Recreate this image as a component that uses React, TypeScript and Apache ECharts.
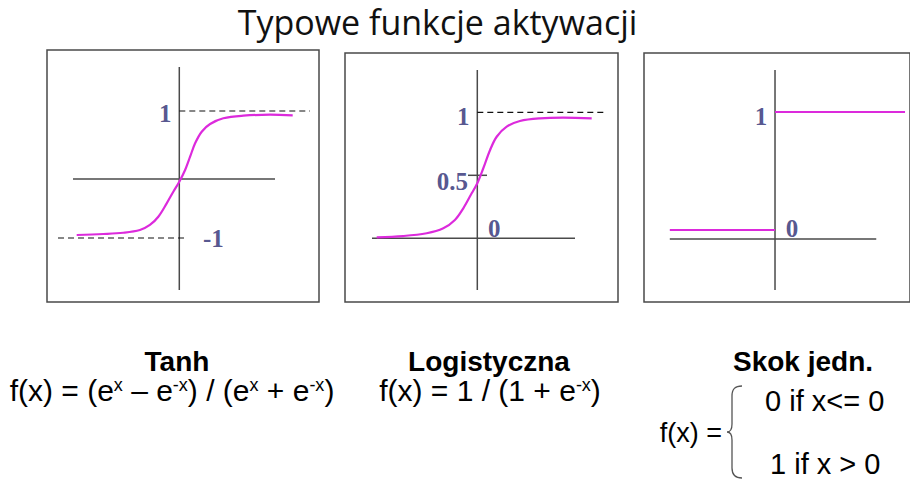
import { useEffect, useRef } from 'react';
import * as echarts from 'echarts';

// ---- data ----
const tanhX = [-5.13, -3.8, -2.8, -1.97, -1.47, -1.05, -0.63, -0.3, 0, 0.29, 0.54, 0.79, 1.12, 1.54, 2.2, 3.2, 4.54, 5.67];
const tanhY = [-0.953, -0.937, -0.917, -0.874, -0.795, -0.665, -0.454, -0.271, -0.113, 0.071, 0.28, 0.491, 0.674, 0.795, 0.885, 0.926, 0.942, 0.932];
const logX = [-5.03, -3.7, -2.53, -1.7, -1.12, -0.7, -0.28, 0, 0.3, 0.64, 0.97, 1.47, 2.13, 3.13, 4.3, 5.72];
const logY = [0.008, 0.018, 0.04, 0.079, 0.145, 0.238, 0.357, 0.437, 0.556, 0.701, 0.806, 0.886, 0.931, 0.952, 0.957, 0.952];
const stepX = [-5.3, 0, 6.55];
const stepLevels = [0, 1];

const tanhTickValues = [1, -1];
const tanhTickLabels = ['1', '-1'];
const logTickValues = [1, 0.5, 0];
const logTickLabels = ['1', '0.5', '0'];
const stepTickValues = [1, 0];
const stepTickLabels = ['1', '0'];

const titleText = 'Typowe funkcje aktywacji';
const names = ['Tanh', 'Logistyczna', 'Skok jedn.'];

// ---- layout (pixels) ----
const panels = [
  { box: [47, 50, 319, 302], x0: 179.3, y0: 174.5, ux: 20, uy: 63.5 },
  { box: [345, 53, 618, 302], x0: 477.3, y0: 238.3, ux: 20, uy: 126 },
  { box: [644, 53, 912, 302], x0: 776, y0: 230, ux: 20, uy: 118 },
];

const MAGENTA = '#dc2adc';
const AXIS = '#4a4a4a';
const LABEL = '#2a2a72';
const SANS = 'Liberation Sans, Arial, sans-serif';

export default function App() {
  const ref = useRef<HTMLDivElement>(null);

  useEffect(() => {
    document.body.style.margin = '0';
    if (!ref.current) return;
    echarts.graphic.registerShape(
      'brace',
      echarts.graphic.extendPath('M15,0 C8,0 5,3 5,10 L5,38 C5,43 3,46 0,46 C3,46 5,49 5,54 L5,82 C5,89 8,92 15,92', {})
    );
    const chart = echarts.init(ref.current, undefined, { renderer: 'svg' });

    const px2x = (i: number, px: number) => (px - panels[i].x0) / panels[i].ux;
    const px2y = (i: number, py: number) => (panels[i].y0 - py) / panels[i].uy;

    const grid = panels.map((p) => ({
      left: p.box[0],
      top: p.box[1],
      width: p.box[2] - p.box[0],
      height: p.box[3] - p.box[1],
      show: true,
      borderColor: AXIS,
      borderWidth: 1.5,
      backgroundColor: 'transparent',
    }));
    const xAxis = panels.map((p, i) => ({
      type: 'value', gridIndex: i, show: false,
      min: px2x(i, p.box[0]), max: px2x(i, p.box[2]),
    }));
    const yAxis = panels.map((p, i) => ({
      type: 'value', gridIndex: i, show: false,
      min: px2y(i, p.box[3]), max: px2y(i, p.box[1]),
    }));

    const seg = (g: number, pts: number[][], style: any, z = 2) => ({
      type: 'line', xAxisIndex: g, yAxisIndex: g, data: pts, symbol: 'none',
      silent: true, lineStyle: style, z, clip: false,
    });
    const axisStyle = { color: AXIS, width: 1.5 };
    const dashStyle = { color: '#111', width: 1.2, type: [6, 4] };

    // axes drawn inside each box (pixel extents from the reference)
    const axes = (g: number, hy: number, hx1: number, hx2: number, vy1: number, vy2: number) => [
      seg(g, [[px2x(g, hx1), px2y(g, hy)], [px2x(g, hx2), px2y(g, hy)]], axisStyle, 1),
      seg(g, [[0, px2y(g, vy1)], [0, px2y(g, vy2)]], axisStyle, 1),
    ];

    const labelSeries = (g: number, values: number[], labels: string[], offsets: number[][]) => ({
      type: 'scatter', xAxisIndex: g, yAxisIndex: g, symbolSize: 0, silent: true, z: 5,
      data: values.map((v, k) => ({ value: [0, v], name: labels[k], label: { offset: offsets[k] } })),
      label: {
        show: true, position: 'inside', formatter: '{b}',
        fontFamily: 'Liberation Serif, Times New Roman, serif', fontWeight: 'bold', fontSize: 25, color: LABEL,
      },
    });

    const series: any[] = [
      // panel 1: tanh
      ...axes(0, 179, 73, 275, 67, 290),
      seg(0, [[0, 1], [px2x(0, 310), 1]], dashStyle),
      seg(0, [[px2x(0, 58), -1], [px2x(0, 187), -1]], dashStyle),
      {
        type: 'line', xAxisIndex: 0, yAxisIndex: 0, symbol: 'none', smooth: 0.35, silent: true, z: 3,
        data: tanhX.map((x, k) => [x, tanhY[k]]), lineStyle: { color: MAGENTA, width: 2.2 },
      },
      labelSeries(0, tanhTickValues, tanhTickLabels, [[-14, 2], [34, 0]]),
      // panel 2: logistic
      ...axes(1, 238.3, 372, 575, 70, 290),
      seg(1, [[0, 1], [px2x(1, 607), 1]], dashStyle),
      seg(1, [[px2x(1, 468), 0.5], [px2x(1, 487), 0.5]], axisStyle),
      {
        type: 'line', xAxisIndex: 1, yAxisIndex: 1, symbol: 'none', smooth: 0.35, silent: true, z: 3,
        data: logX.map((x, k) => [x, logY[k]]), lineStyle: { color: MAGENTA, width: 2.2 },
      },
      labelSeries(1, logTickValues, logTickLabels, [[-14, 4], [-25, 6], [17, -10]]),
      // panel 3: unit step
      ...axes(2, 239, 670, 878, 70, 290),
      seg(2, [[stepX[0], stepLevels[0]], [stepX[1], stepLevels[0]]], { color: MAGENTA, width: 1.8 }, 3),
      seg(2, [[stepX[1], stepLevels[1]], [stepX[2], stepLevels[1]]], { color: MAGENTA, width: 1.8 }, 3),
      labelSeries(2, stepTickValues, stepTickLabels, [[-14, 4], [17, -2]]),
    ];

    const txt = (x: number, y: number, text: string, extra: any = {}) => ({
      type: 'text', x, y, silent: true, z: 10,
      style: {
        text, fill: '#000', fontFamily: SANS, fontSize: 28, lineHeight: 28,
        align: 'center', verticalAlign: 'middle', ...extra,
      },
    });
    const rich = {
      m: { fontSize: 30, fontFamily: SANS, lineHeight: 28, color: '#000' },
      s: { fontSize: 18, fontFamily: SANS, lineHeight: 12, verticalAlign: 'top', color: '#000' },
    };

    const graphic: any[] = [
      txt(437.5, 22, titleText, { fontFamily: 'Open Sans, sans-serif', fontSize: 34, lineHeight: 34, fill: '#111' }),
      txt(177, 361, names[0], { fontWeight: 'bold' }),
      txt(172, 390, '{m|f(x) = (e}{s|x}{m| – e}{s|-x}{m|) / (e}{s|x}{m| + e}{s|-x}{m|)}', { rich }),
      txt(489, 361, names[1], { fontWeight: 'bold' }),
      txt(490, 390, '{m|f(x) = 1 / (1 + e}{s|-x}{m|)}', { rich }),
      txt(803, 361, names[2], { fontWeight: 'bold' }),
      txt(765, 401, '0 if x<= 0', { align: 'left', fontSize: 29 }),
      txt(722, 433, 'f(x) =', { align: 'right', fontSize: 27 }),
      txt(770, 464, '1 if x > 0', { align: 'left', fontSize: 29 }),
      {
        type: 'brace', x: 727, y: 386, silent: true, z: 10,
        style: { stroke: '#555', fill: 'none', lineWidth: 1.3 },
      },
    ];

    chart.setOption({
      animation: false,
      backgroundColor: '#fff',
      grid, xAxis, yAxis, series, graphic,
    });
    return () => chart.dispose();
  }, []);

  return <div ref={ref} style={{ width: 910, height: 480 }} />;
}
